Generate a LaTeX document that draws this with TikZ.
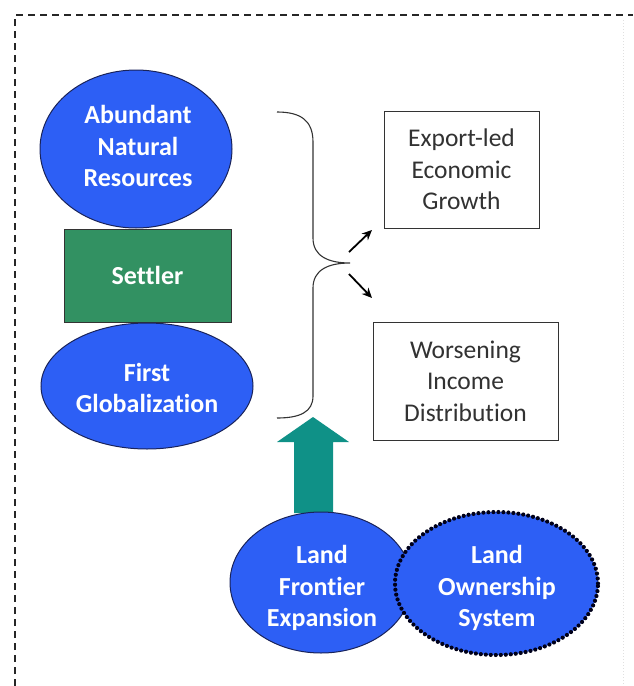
\documentclass[tikz,border=0pt]{standalone}
\usepackage{fontspec}
\setmainfont{Carlito}[Ligatures={NoCommon}]
\usetikzlibrary{shapes.geometric,arrows.meta}
\definecolor{blueFill}{RGB}{45,95,245}
\definecolor{navy}{RGB}{25,35,90}
\definecolor{greenFill}{RGB}{50,145,98}
\definecolor{tealArrow}{RGB}{15,145,135}
\definecolor{boxText}{RGB}{50,50,50}
\tikzset{
  blueoval/.style={ellipse, fill=blueFill, draw=navy, line width=1pt, inner sep=0pt},
  ovaltext/.style={inner sep=0pt, text=white, font=\fontsize{26}{31.5}\selectfont\bfseries, align=center},
  dottedoval/.style={blueoval, draw=black!90!blue, line width=4.2pt, line cap=round, dash pattern=on 0pt off 5pt},
  settlerbox/.style={rectangle, fill=greenFill, draw=black!80, line width=1pt,
    text=white, font=\fontsize{26}{31.5}\selectfont\bfseries},
  outbox/.style={rectangle, draw=black!80, line width=1pt, fill=white, inner sep=0pt,
    text=boxText, font=\fontsize{25.5}{31.5}\selectfont, align=center},
  frame/.style={draw=black!85, line width=1.3pt, dash pattern=on 7pt off 5pt},
  bracepath/.style={draw=black!80, line width=1.1pt},
  smallarrow/.style={draw=black, line width=1.8pt, -{Stealth[length=10pt,width=9pt]}},
}
\begin{document}
\begin{tikzpicture}[x=1pt,y=-1pt]
\useasboundingbox (0,0) rectangle (633,686);
% frame
\draw[frame] (15,686) -- (15,15) -- (633,15);
\draw[draw=black!12, line width=1pt, dash pattern=on 1pt off 2pt] (623,20) -- (623,686);
% left column
\node[blueoval, minimum width=192pt, minimum height=158pt] (anr) at (136,149) {};
\node[ovaltext] (anrText) at (138,146) {Abundant\\Natural\\Resources};
\node[settlerbox, minimum width=167pt, minimum height=93pt] (settler) at (147.5,275.5) {Settler};
\node[blueoval, minimum width=212pt, minimum height=126pt] (fg) at (147,386) {};
\node[ovaltext] (fgText) at (147,388) {First\\Globalization};
% brace
\coordinate (btop) at (277,112);
\coordinate (btip) at (350,263);
\coordinate (bbot) at (277,418);
\draw[bracepath] (btop) .. controls (300,112) and (313,120) .. (313,142) -- (313,238)
  .. controls (313,256) and (328,263) .. (btip)
  .. controls (328,263) and (313,270) .. (313,288) -- (313,396)
  .. controls (313,412) and (300,418) .. (bbot);
% outcome boxes
\node[outbox, minimum width=155pt, minimum height=117pt] (growth) at (461.5,169.5) {Export-led\\Economic\\Growth};
\node[outbox, minimum width=185pt, minimum height=118pt] (income) at (465.5,381) {Worsening\\Income\\Distribution};
\coordinate (a1s) at (349,252);
\coordinate (a1e) at (372,230);
\coordinate (a2s) at (349,274);
\coordinate (a2e) at (372,298);
\draw[smallarrow] (a1s) -- (a1e);
\draw[smallarrow] (a2s) -- (a2e);
% teal arrow
\coordinate (tealtip) at (313,417);
\fill[tealArrow] (294,513) -- (294,442) -- (277,442) -- (tealtip) -- (349,442) -- (333,442) -- (333,513) -- cycle;
% bottom ovals
\node[blueoval, minimum width=182pt, minimum height=141pt] (lfe) at (321,582.5) {};
\node[ovaltext] (lfeText) at (322,588) {Land\\Frontier\\Expansion};
\node[dottedoval, minimum width=203pt, minimum height=143pt] (los) at (496.5,583.5) {};
\node[ovaltext] (losText) at (497,588) {Land\\Ownership\\System};
\end{tikzpicture}
\end{document}
